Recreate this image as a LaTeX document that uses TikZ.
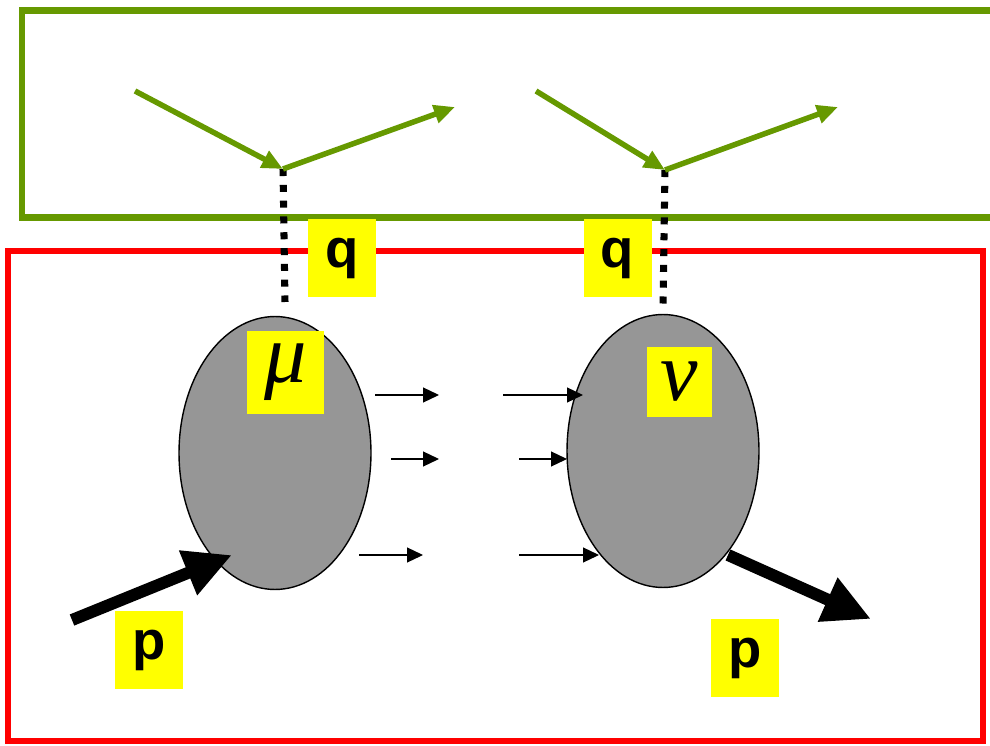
\documentclass[tikz,border=0pt]{standalone}
\usepackage{fontspec}
\setmainfont{Liberation Sans}
\newfontfamily\greekfont{Liberation Serif}
\usetikzlibrary{arrows.meta,shapes.geometric}
\definecolor{leafgreen}{RGB}{102,153,0}
\definecolor{blobgray}{RGB}{150,150,150}
\definecolor{tagyellow}{RGB}{255,255,0}
\tikzset{
	tag/.style={fill=tagyellow,inner sep=0pt,minimum width=1.36cm,minimum height=1.56cm,font=\fontsize{31}{31}\selectfont\bfseries},
	greektag/.style={fill=tagyellow,inner sep=0pt,font=\fontsize{48}{48}\selectfont\greekfont\itshape},
	blob/.style={ellipse,draw=black,line width=0.8pt,fill=blobgray,minimum width=3.84cm,minimum height=5.46cm,inner sep=0pt},
	lepton/.style={leafgreen,line width=0.11cm,-{Triangle[length=0.42cm,width=0.36cm]}},
	photon/.style={black,line width=4pt,line cap=butt,dash pattern=on 4pt off 5pt},
	flow/.style={black,line width=0.7pt,-{Triangle[length=0.32cm,width=0.3cm]}},
	beam/.style={black,line width=0.24cm,-{Triangle[length=0.95cm,width=0.9cm]}}
}
\begin{document}
\begin{tikzpicture}[x=0.02cm,y=-0.02cm,line join=miter]
		\useasboundingbox (0,0) rectangle (990,746);
		% frames
		\draw[leafgreen,line width=0.14cm] (1010,11) -- (22,11) -- (22,218) -- (1010,218);
		\draw[red,line width=0.12cm] (8,251) rectangle (983,741);
		% lepton lines
		\coordinate (inL) at (135,91); \coordinate (vL) at (283,169); \coordinate (outL) at (455,107);
		\coordinate (inR) at (536,91); \coordinate (vR) at (665,170); \coordinate (outR) at (838,107);
		\coordinate (qL) at (285,302); \coordinate (qR) at (663,305);
		\draw[photon] (vL) -- (qL);
		\draw[photon] (vR) -- (qR);
		\draw[lepton] (inL) -- (vL);
		\draw[lepton] (vL) -- (outL);
		\draw[lepton] (inR) -- (vR);
		\draw[lepton] (vR) -- (outR);
		\node[tag] (q1) at (342,258) {q};
		\node[tag] (q2) at (617.5,258) {q};
		% hadron blobs
		\node[blob] (hmu) at (275,453) {};
		\node[blob] (hnu) at (663,451) {};
		\node[greektag,minimum width=1.54cm,minimum height=1.66cm] (mu) at (285.5,372.5) {μ};
		\node[greektag,minimum width=1.3cm,minimum height=1.4cm] (nu) at (679.5,382) {ν};
		% intermediate states
		\coordinate (a1) at (375,395); \coordinate (a2) at (439,395);
		\coordinate (a3) at (503,395); \coordinate (a4) at (583,395);
		\coordinate (b1) at (391,459); \coordinate (b2) at (439,459);
		\coordinate (b3) at (519,459); \coordinate (b4) at (567,459);
		\coordinate (c1) at (359,555); \coordinate (c2) at (423,555);
		\coordinate (c3) at (519,555); \coordinate (c4) at (599,555);
		\draw[flow] (a1) -- (a2); \draw[flow] (a3) -- (a4);
		\draw[flow] (b1) -- (b2); \draw[flow] (b3) -- (b4);
		\draw[flow] (c1) -- (c2); \draw[flow] (c3) -- (c4);
		% incoming and outgoing hadron
		\coordinate (pin) at (72,620); \coordinate (pinend) at (232,555);
		\coordinate (poutstart) at (728,555); \coordinate (pout) at (871,619);
		\draw[beam] (pin) -- (pinend);
		\draw[beam] (poutstart) -- (pout);
		\node[tag] (p1) at (149,650) {p};
		\node[tag] (p2) at (745,658) {p};
	\end{tikzpicture}
\end{document}
